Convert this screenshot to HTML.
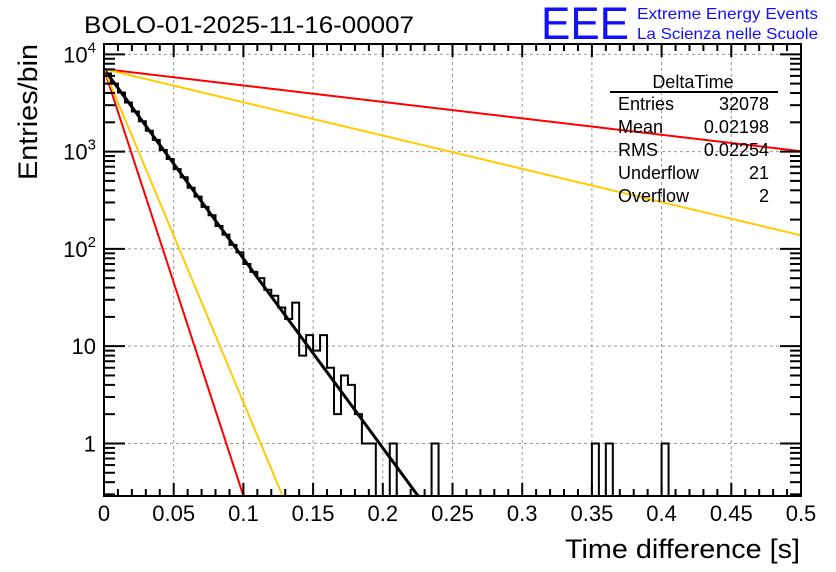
<!DOCTYPE html>
<html><head><meta charset="utf-8">
<style>
html,body{margin:0;padding:0;background:#fff;}
svg{display:block;font-family:"Liberation Sans",sans-serif;}
</style></head>
<body>
<svg id="chart" width="836" height="572" viewBox="0 0 836 572" xmlns="http://www.w3.org/2000/svg">
<rect x="0" y="0" width="836" height="572" fill="#fff"/>
<text x="84" y="33" font-size="24" fill="#000" textLength="330" lengthAdjust="spacingAndGlyphs">BOLO-01-2025-11-16-00007</text>
<text x="541" y="39" font-size="45" fill="#1010ff" textLength="88" lengthAdjust="spacingAndGlyphs">EEE</text>
<text x="637" y="19" font-size="16" fill="#1010ff" textLength="181" lengthAdjust="spacingAndGlyphs">Extreme Energy Events</text>
<text x="637" y="39" font-size="16" fill="#1010ff" textLength="181" lengthAdjust="spacingAndGlyphs">La Scienza nelle Scuole</text>
<g id="grid"></g>
<g id="curves"></g>
<g id="hist"></g>
<g id="axes"></g>
<g font-size="18">
<text x="693" y="88" text-anchor="middle">DeltaTime</text>
<line x1="610" y1="92" x2="778" y2="92" stroke="#000" stroke-width="2"/>
<text x="618" y="110">Entries</text><text x="769" y="110" text-anchor="end">32078</text>
<text x="618" y="133">Mean</text><text x="769" y="133" text-anchor="end">0.02198</text>
<text x="618" y="156">RMS</text><text x="769" y="156" text-anchor="end">0.02254</text>
<text x="618" y="179">Underflow</text><text x="769" y="179" text-anchor="end">21</text>
<text x="618" y="202">Overflow</text><text x="769" y="202" text-anchor="end">2</text>
</g>
<text x="565" y="558" font-size="27" textLength="235" lengthAdjust="spacingAndGlyphs">Time difference [s]</text>
<text transform="translate(37,180) rotate(-90)" font-size="27" textLength="136" lengthAdjust="spacingAndGlyphs">Entries/bin</text>
</svg>
<script>
// data
const binWidth = 0.005;
const counts = [6350,5000,4050,3200,2580,2050,1640,1320,1040,840,660,545,425,345,270,222,172,140,110,92,70,58,50,38,33,25,19,28,8,13,9,13,6,2,5,4,2,1,1,0,0,1,0,0,0,0,0,1,0,0,
0,0,0,0,0,0,0,0,0,0,0,0,0,0,0,0,0,0,0,0,1,0,1,0,0,0,0,0,0,0,1,0,0,0,0,0,0,0,0,0,0,0,0,0,0,0,0,0,0,0];
const fitNames = ["fit-black","fit-red-steep","fit-yellow-steep","fit-red-shallow","fit-yellow-shallow"];
const fitN0 = [7060,7060,7060,7060,7060];
const fitTau = [0.0223,0.0099,0.01268,0.257,0.127];
const fitColors = ["#000","#ff0000","#ffcc00","#ff0000","#ffcc00"];
const xTicks = [0,0.05,0.1,0.15,0.2,0.25,0.3,0.35,0.4,0.45,0.5];
const xTickLabels = ["0","0.05","0.1","0.15","0.2","0.25","0.3","0.35","0.4","0.45","0.5"];
const yDecades = [0,1,2,3,4];
const yTickBase = ["1","10","10","10","10"];
const yTickExp = ["","","2","3","4"];

const L=104,R=801,T=44,B=496;
const yLogMin=-0.54, yLogMax=4.106;
const X=v=>L+(v/0.5)*(R-L);
const Y=v=>{const lv=v>0?Math.log10(v):yLogMin-1;return Math.min(B,Math.max(T,B-(lv-yLogMin)/(yLogMax-yLogMin)*(B-T)));};
const NS="http://www.w3.org/2000/svg";
function mk(tag,attrs,parent){const e=document.createElementNS(NS,tag);for(const k in attrs)e.setAttribute(k,attrs[k]);parent.appendChild(e);return e;}
const grid=document.getElementById('grid'),axes=document.getElementById('axes'),hist=document.getElementById('hist'),curves=document.getElementById('curves');

// grid
xTicks.forEach((t,i)=>{if(i===0||i===xTicks.length-1)return;
 const g=mk('line',{x1:X(t),x2:X(t),y1:T,y2:B,stroke:'#999','stroke-dasharray':'3,3','stroke-width':1},grid);
 
 });
yDecades.forEach(d=>{const y=Y(Math.pow(10,d));
 const g=mk('line',{x1:L,x2:R,y1:y,y2:y,stroke:'#999','stroke-dasharray':'3,3','stroke-width':1},grid);
 
 });

// fit curves
fitN0.forEach((n0,k)=>{let d='';
 for(let i=0;i<=400;i++){const t=0.5*i/400;const v=n0*Math.exp(-t/fitTau[k]);
  if(Math.log10(v)<yLogMin){const tb=fitTau[k]*Math.log(n0/Math.pow(10,yLogMin));d+=' L'+X(tb)+','+B;break;}
  d+=(i?' L':'M')+X(t).toFixed(2)+','+Y(v).toFixed(2);}
 const p=mk('path',{d:d,fill:'none',stroke:fitColors[k],'stroke-width':k===0?3:2},curves);
 
 });

// histogram
let d='M'+X(0)+','+B;
counts.forEach((c,i)=>{const y=Y(c);d+=' L'+X(i*binWidth).toFixed(2)+','+y.toFixed(2)+' L'+X((i+1)*binWidth).toFixed(2)+','+y.toFixed(2);});
d+=' L'+X(0.5)+','+B;
const h=mk('path',{d:d,fill:'none',stroke:'#000','stroke-width':2},hist);



// frame
const fr=mk('rect',{x:L,y:T,width:R-L,height:B-T,fill:'none',stroke:'#000','stroke-width':2},axes);



// x ticks
for(let i=0;i<=50;i++){const t=i*0.01;const maj=(i%5===0);const len=maj?13:7;
 mk('line',{x1:X(t),x2:X(t),y1:B,y2:B-len,stroke:'#000','stroke-width':2},axes);
 mk('line',{x1:X(t),x2:X(t),y1:T,y2:T+len,stroke:'#000','stroke-width':2},axes);}
xTicks.forEach((t,i)=>{const tx=mk('text',{x:X(t),y:B+25,'font-size':22,'text-anchor':'middle'},axes);tx.textContent=xTickLabels[i];
 
 });

// y ticks
for(let d0=-1;d0<=4;d0++){for(let m=1;m<=9;m++){const v=m*Math.pow(10,d0);const lv=Math.log10(v);
 if(lv<yLogMin||lv>yLogMax)continue;const y=Y(v);const len=m===1?21:11;
 mk('line',{x1:L,x2:L+len,y1:y,y2:y,stroke:'#000','stroke-width':2},axes);
 mk('line',{x1:R,x2:R-len,y1:y,y2:y,stroke:'#000','stroke-width':2},axes);}}
yDecades.forEach((dd,i)=>{const y=Y(Math.pow(10,dd))+8;
 const tx=mk('text',{x:L-8,y:y,'font-size':22,'text-anchor':'end'},axes);
 
 
 const b=mk('tspan',{},tx);b.textContent=yTickBase[i];
 if(yTickExp[i]){const e=mk('tspan',{'font-size':15,dy:-10},tx);e.textContent=yTickExp[i];}
});
</script>
</body></html>
